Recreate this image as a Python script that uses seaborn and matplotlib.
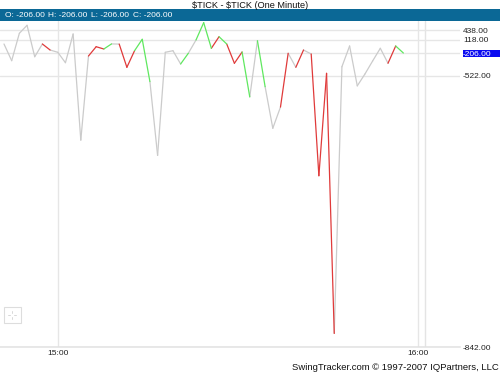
import numpy as np
import pandas as pd
import matplotlib
matplotlib.use("Agg")
import matplotlib.pyplot as plt
from matplotlib.patches import Rectangle
from matplotlib.lines import Line2D
import seaborn as sns

# ---- data ----
tick_values = [10, -313, 327, 596, -258, 10, -134, -189, -341, 303,
               -598, -248, -55, -110, 12, 8, -405, -151, 125, -529,
               -616, -189, -151, -359, -210, 106, 684, -93, 212, 10,
               -349, -182, -547, 89, -535, -584, -559, -210, -405, -134,
               -220, -640, -489, -826, -397, -38, -534, -498, -317, -93,
               -349, -38, -206]
# colour of the segment leading from each point to the next
segment_colors = ["g0", "g0", "g0", "g0", "g0", "r", "g0", "g0", "g0", "g0",
                  "g0", "r", "r", "gr", "g0", "r", "r", "gr", "gr", "g0",
                  "g0", "g0", "g0", "gr", "g0", "gr", "gr", "r", "gr", "r",
                  "r", "gr", "g0", "gr", "g0", "g0", "r", "g0", "r", "g0",
                  "r", "r", "r", "g0", "g0", "g0", "g0", "g0", "g0", "g0",
                  "r", "gr"]
axis_levels = [438, 118, -206, -522, -842]
axis_labels = ["438.00", "118.00", "-206.00", "-522.00", "-842.00"]
time_labels = ["15:00", "16:00"]
ohlc_labels = ["O: -206.00", "H: -206.00", "L: -206.00", "C: -206.00"]

palette = {"g0": "#cbcbcb", "r": "#e03a3a", "gr": "#5fe85f"}

# ---- piecewise axis used by the original chart ----
knot_vals = np.array([-5000, -842, -522, -206, 118, 438, 751, 5000], float)
knot_pos = np.array([-347 - (5000 - 842) * 271.3 / 320, -347, -75.7, -53,
                     -39.5, -30, -20.7, -20.7 + (5000 - 751) * 9.3 / 313])


def fwd(v):
    return np.interp(v, knot_vals, knot_pos)


def inv(p):
    return np.interp(p, knot_pos, knot_vals)


rows = []
for i, c in enumerate(segment_colors):
    rows.append({"x": i, "v": tick_values[i], "seg": i, "col": c})
    rows.append({"x": i + 1, "v": tick_values[i + 1], "seg": i, "col": c})
df = pd.DataFrame(rows)

W, H = 500, 374
fig = plt.figure(figsize=(W / 100, H / 100), dpi=100)
sns.set_style("white")
plt.rcParams["font.family"] = ["Liberation Sans", "DejaVu Sans"]

ax_left, ax_right, ax_top, ax_bot = 0, 460, 20.7, 347
ax = fig.add_axes([ax_left / W, 1 - ax_bot / H, (ax_right - ax_left) / W,
                   (ax_bot - ax_top) / H])
ax.set_yscale("function", functions=(fwd, inv))

sns.lineplot(data=df, x="x", y="v", hue="col", units="seg", estimator=None,
             palette=palette, legend=False, ax=ax, linewidth=0.9, zorder=3)

px_per = 7.68
x0 = 4
ax.set_xlim((ax_left - x0) / px_per, (ax_right - x0) / px_per)
ax.set_ylim(-842, 751)
ax.set_xlabel("")
ax.set_ylabel("")

ax.set_yticks(axis_levels)
ax.set_yticklabels(axis_labels)
ax.yaxis.tick_right()
ax.tick_params(axis="y", length=0, pad=2.2, labelsize=6, labelcolor="#222222")
ax.set_xticks([(58 - x0) / px_per, (418 - x0) / px_per])
ax.set_xticklabels(time_labels)
ax.tick_params(axis="x", length=0, pad=2.5, labelsize=6, labelcolor="#222222")
ax.grid(True, color="#e6e6e6", linewidth=1.0, zorder=0)
ax.axvline((425 - x0) / px_per, color="#e4e4e4", linewidth=1.0, zorder=0)
for s in ax.spines.values():
    s.set_visible(False)
ax.spines["bottom"].set_visible(True)
ax.spines["bottom"].set_color("#e2e2e2")
ax.spines["bottom"].set_linewidth(1.1)

for lab in ax.get_yticklabels():
    if lab.get_text() == "-206.00":
        lab.set_color("white")

# highlight box behind the last value
fig.patches.append(Rectangle((462.5 / W, 1 - 57 / H), (W - 462.5) / W, 7 / H,
                             transform=fig.transFigure, facecolor="#0a0af0",
                             edgecolor="none", zorder=-1))

# header
fig.patches.append(Rectangle((0, 1 - 20.7 / H), 1, 11.4 / H,
                             transform=fig.transFigure, facecolor="#0b6896",
                             edgecolor="none", zorder=-1))
fig.text(250 / W, 1 - 5.8 / H, "\\$TICK - \\$TICK (One Minute)", ha="center",
         va="center", fontsize=6.6, color="#111111")
for xpos, t in zip([5, 48.3, 90.7, 133.3], ohlc_labels):
    fig.text(xpos / W, 1 - 15.5 / H, t, ha="left", va="center", fontsize=6,
             color="white")

# footer
fig.text(499 / W, 1 - 368 / H, "SwingTracker.com \u00a9 1997-2007 IQPartners, LLC",
         ha="right", va="center", fontsize=6.8, color="#111111")

# small zoom icon
fig.patches.append(Rectangle((4 / W, 1 - 323 / H), 16.5 / W, 16.5 / H,
                             transform=fig.transFigure, facecolor="none",
                             edgecolor="#dddddd", linewidth=0.8))
cx, cy = 12.3, 315
for dx, dy in [(0, -4), (0, 4), (-4, 0), (4, 0)]:
    fig.lines.append(Line2D([(cx + dx * 0.5) / W, (cx + dx) / W],
                            [1 - (cy + dy * 0.5) / H, 1 - (cy + dy) / H],
                            transform=fig.transFigure, color="#d8d8d8",
                            linewidth=0.7))

fig.savefig("out.png", dpi=100)
